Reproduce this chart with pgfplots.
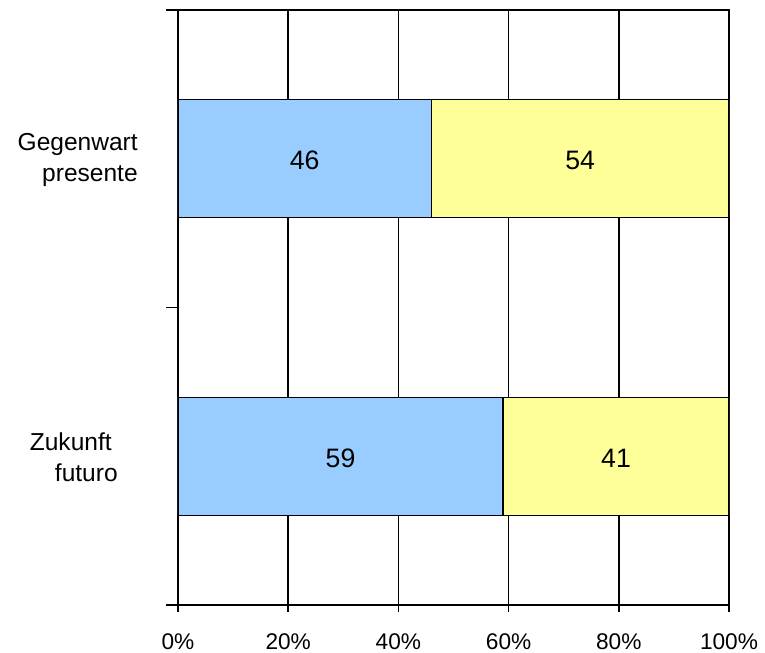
\documentclass[border=0pt]{standalone}
\usepackage{fontspec}
\setmainfont{Liberation Sans}
\usepackage{pgfplots}
\pgfplotsset{compat=1.18}
\definecolor{bblue}{HTML}{99CCFF}
\definecolor{byellow}{HTML}{FFFF99}
\begin{document}
\begin{tikzpicture}
\begin{axis}[
  name=ax,
  scale only axis,
  width=413.25pt, height=446.25pt,
  xbar stacked,
  bar width=88.5pt,
  xmin=0, xmax=100, ymin=0, ymax=2,
  axis line style={line width=1.5pt},
  xtick={0,20,40,60,80,100},
  xticklabel={\pgfmathprintnumber{\tick}\%},
  /pgf/number format/assume math mode=true,
  xtick pos=bottom, ytick pos=left,
  tick align=outside,
  major tick length=5.25pt,
  ytick={0,1,2},
  yticklabels={},
  extra y ticks={0,1,2},
  extra y tick labels={},
  extra y tick style={major tick length=9pt},
  tick style={line width=1.2pt, black},
  xmajorgrids,
  major grid style={black, line width=1.1pt},
  xticklabel style={font=\fontsize{17}{20}\selectfont, yshift=-12.75pt},
]
\addplot[fill=bblue, draw=black, line width=1pt] coordinates {(59,0.5) (46,1.5)};
\addplot[fill=byellow, draw=black, line width=1pt] coordinates {(41,0.5) (54,1.5)};
\coordinate (a) at (axis cs:23,1.5);
\coordinate (b) at (axis cs:73,1.5);
\coordinate (c) at (axis cs:29.5,0.5);
\coordinate (d) at (axis cs:79.5,0.5);
\coordinate (ga) at (axis cs:0,1.5);
\coordinate (zu) at (axis cs:0,0.5);
\end{axis}
\tikzset{bl/.style={font=\fontsize{20}{24}\selectfont, yshift=-1.2pt}}
\node[bl] at (a) {46};
\node[bl] at (b) {54};
\node[bl] at (c) {59};
\node[bl] at (d) {41};
\tikzset{cl/.style={font=\fontsize{18.4}{23.25}\selectfont, align=right, anchor=east, xshift=-26.7pt, yshift=-1pt}}
\node[cl] at (ga) {Gegenwart\\presente};
\node[cl] at (zu) {Zukunft\hspace*{19.5pt}\\futuro\hspace*{15pt}};
\pgfresetboundingbox
\path[use as bounding box] ([xshift=-133.5pt,yshift=-36pt]ax.south west) rectangle ([xshift=27pt,yshift=7.5pt]ax.north east);
\end{tikzpicture}
\end{document}
